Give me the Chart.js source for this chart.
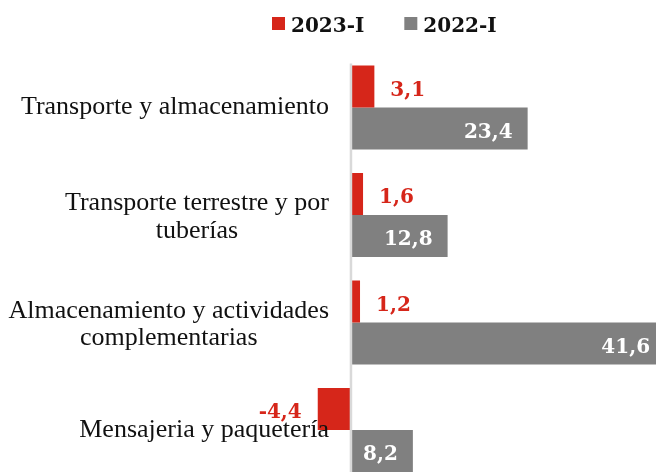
<!DOCTYPE html>
<html>
<head>
<meta charset="utf-8">
<script src="https://cdn.jsdelivr.net/npm/chart.js@4.4.1/dist/chart.umd.min.js"></script>
<style>
  html, body { margin: 0; padding: 0; background: #fff; overflow: hidden; }
  #wrap { width: 656px; height: 490px; }
</style>
</head>
<body>
<div id="wrap"><canvas id="chart" width="656" height="490"></canvas></div>
<script>
/* Variación por actividad: 2023-I vs 2022-I */
const categories = [
  ['Transporte y almacenamiento'],
  ['Transporte terrestre y por', 'tuberías'],
  ['Almacenamiento y actividades', 'complementarias'],
  ['Mensajeria y paquetería'],
];
const seriesNames = ['2023-I', '2022-I'];
const values2023 = [3.1, 1.6, 1.2, -4.4];
const values2022 = [23.4, 12.8, 41.6, 8.2];

const RED = '#D6261A';
const GRAY = '#808080';
const LABEL_FONT = "26px 'Liberation Serif', serif";
const VALUE_FONT = "bold 20px 'DejaVu Serif', serif";

function fmt(v) {
  return v.toFixed(1).replace('.', ',');
}

const customDraw = {
  id: 'customDraw',
  afterDatasetsDraw(chart) {
    const ctx = chart.ctx;
    const xs = chart.scales.x;
    const area = chart.chartArea;
    const zeroX = xs.getPixelForValue(0);
    const firstBar = chart.getDatasetMeta(0).data[0];

    ctx.save();

    // zero axis line
    ctx.strokeStyle = '#D9D9D9';
    ctx.lineWidth = 2.5;
    ctx.beginPath();
    ctx.moveTo(zeroX, firstBar.y - firstBar.height / 2 - 2);
    ctx.lineTo(zeroX, chart.height);
    ctx.stroke();

    // value labels
    ctx.font = VALUE_FONT;
    ctx.textBaseline = 'alphabetic';
    chart.data.datasets.forEach((ds, di) => {
      const meta = chart.getDatasetMeta(di);
      meta.data.forEach((bar, i) => {
        const v = ds.data[i];
        if (di === 0) {
          ctx.fillStyle = RED;
          if (v >= 0) {
            ctx.textAlign = 'left';
            ctx.fillText(fmt(v), bar.x + 16, bar.y + 9.3);
          } else {
            ctx.textAlign = 'right';
            ctx.fillText(fmt(v), bar.x - 16, bar.y + 9.3);
          }
        } else {
          ctx.fillStyle = '#fff';
          ctx.textAlign = 'right';
          ctx.fillText(fmt(v), bar.x - 15, bar.y + 9.3);
        }
      });
    });

    // category labels
    ctx.font = LABEL_FONT;
    ctx.fillStyle = '#111';
    ctx.textAlign = 'center';
    const ys = chart.scales.y;
    const rightEdge = 329;
    const lineH = 27.6;
    chart.data.labels.forEach((lines, i) => {
      const cy = ys.getPixelForValue(i);
      const widest = Math.max(...lines.map(l => ctx.measureText(l).width));
      const cx = rightEdge - widest / 2;
      const extra = lines.length > 1 ? 2 : 0;
      lines.forEach((l, k) => {
        const y = cy + 7 + extra + (k - (lines.length - 1) / 2) * lineH;
        ctx.fillText(l, cx, y);
      });
    });

    // legend
    ctx.font = VALUE_FONT;
    ctx.textAlign = 'left';
    let lx = 272;
    chart.data.datasets.forEach(ds => {
      ctx.fillStyle = ds.backgroundColor;
      ctx.fillRect(lx, 17, 13, 13);
      ctx.fillStyle = '#111';
      ctx.fillText(ds.label, lx + 19, 32.3);
      lx += 19 + ctx.measureText(ds.label).width + 40;
    });

    ctx.restore();
  },
};

new Chart(document.getElementById('chart'), {
  type: 'bar',
  data: {
    labels: categories,
    datasets: [
      { label: seriesNames[0], data: values2023, backgroundColor: RED },
      { label: seriesNames[1], data: values2022, backgroundColor: GRAY },
    ],
  },
  options: {
    indexAxis: 'y',
    responsive: false,
    devicePixelRatio: 1,
    animation: false,
    categoryPercentage: 0.78,
    barPercentage: 1,
    layout: { padding: { left: 300, right: 0, top: 53.7, bottom: 6.3 } },
    plugins: {
      legend: { display: false },
      tooltip: { enabled: false },
    },
    scales: {
      x: { type: 'linear', min: -6.75, max: 40.4, display: false },
      y: { display: false },
    },
  },
  plugins: [customDraw],
});
</script>
</body>
</html>
